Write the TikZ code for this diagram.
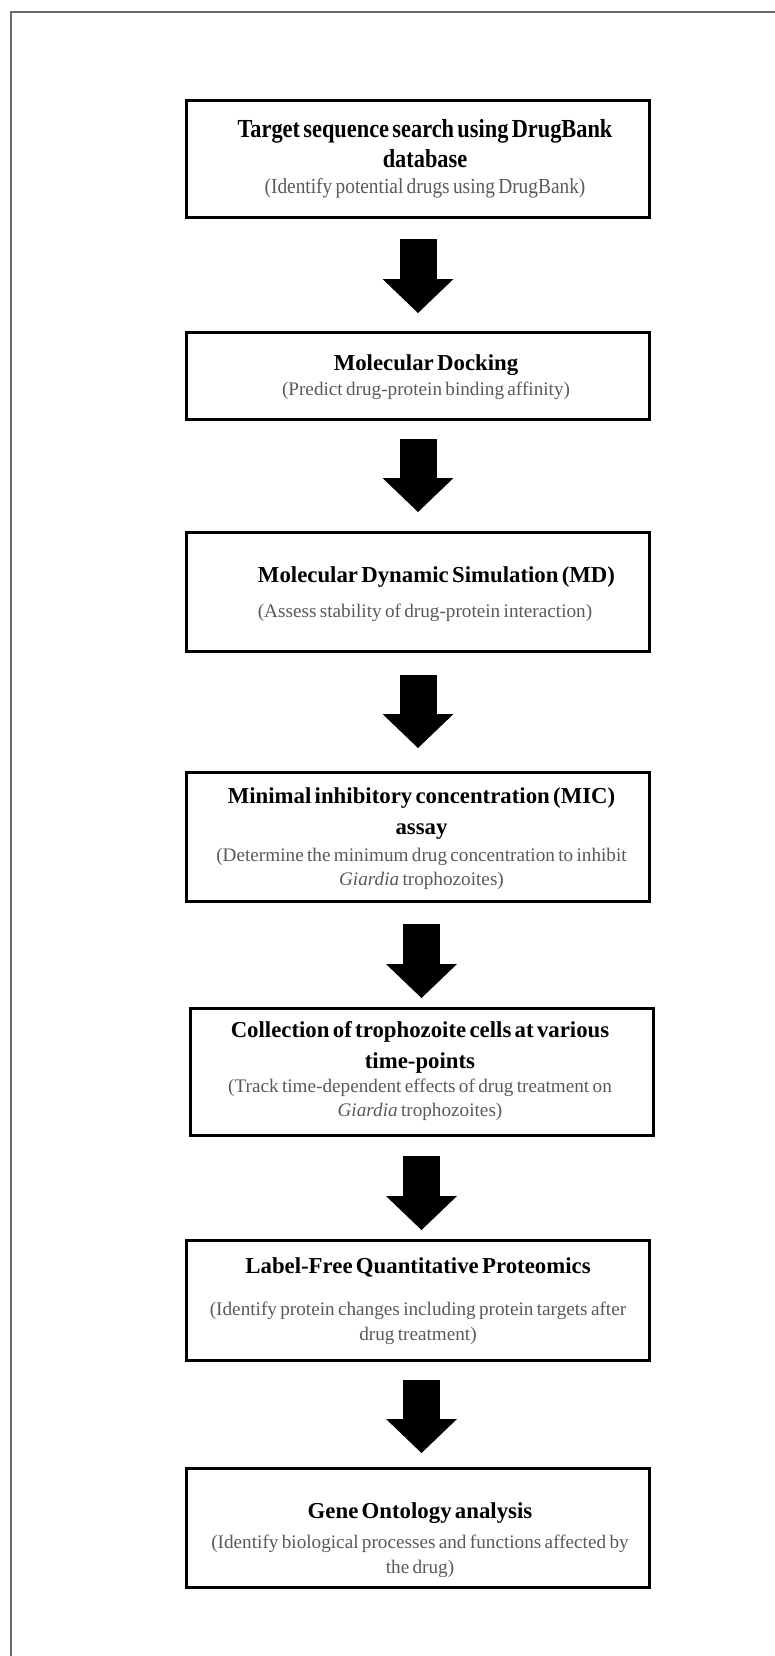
\documentclass[tikz,border=0pt]{standalone}
\usepackage{fontspec}
\setmainfont[WordSpace=1.3]{Liberation Serif}
\newfontfamily\tallttlfont[FakeStretch=0.86, WordSpace=1.3]{Liberation Serif}
\newfontfamily\tallsubfont[FakeStretch=0.9, WordSpace=1.3]{Liberation Serif}
\usetikzlibrary{arrows.meta}

\definecolor{subgray}{RGB}{89,89,89}
\definecolor{framegray}{RGB}{105,105,105}
\newcommand{\ttl}[1]{{\fontsize{22.8}{30.5}\selectfont\bfseries #1\par}}
\newcommand{\subt}[1]{{\fontsize{19.2}{24.5}\selectfont\leavevmode\color{subgray}#1\par}}

\begin{document}
\begin{tikzpicture}[x=1pt, y=-1pt,
    stepbox/.style={draw, line width=3pt, minimum width=463pt, inner sep=0pt, outer sep=0pt},
    steptext/.style={anchor=north, text width=470pt, align=center, inner sep=0pt},
    bigarrow/.style={line width=37pt, -{Triangle[width=71pt, length=34pt, line width=0pt]}}]
        \useasboundingbox (0,0) rectangle (775,1656);

        % 바깥 테두리
        \draw[framegray, line width=1.2pt] (775,12) -- (11,12) -- (11,1656);

        % 상자 (단계)
        \node[stepbox, minimum height=117pt] (b1) at (418,159) {};
        \node[stepbox, minimum height=87pt] (b2) at (418,376) {};
        \node[stepbox, minimum height=119pt] (b3) at (418,592) {};
        \node[stepbox, minimum height=129pt] (b4) at (418,837) {};
        \node[stepbox, minimum height=127pt] (b5) at (422,1072) {};
        \node[stepbox, minimum height=120pt] (b6) at (418,1300.5) {};
        \node[stepbox, minimum height=119pt] (b7) at (418,1528) {};

        % 상자 안 글
        \node[steptext] (t1) at (425,119.4) {{\tallttlfont\fontsize{26}{30}\selectfont\bfseries Target sequence search using DrugBank\\database\par}{\tallsubfont\fontsize{21.5}{26}\selectfont\leavevmode\color{subgray}(Identify potential drugs using DrugBank)\par}};
        \node[steptext] (t2) at (426,354.6) {\ttl{Molecular Docking}\vspace{0.5pt}\subt{(Predict drug-protein binding affinity)}};
        \node[steptext] (t3) at (425,566.6) {\ttl{\hspace*{23pt}Molecular Dynamic Simulation (MD)}\vspace{10.5pt}\subt{(Assess stability of drug-protein interaction)}};
        \node[steptext] (t4) at (421.5,787.6) {\ttl{Minimal inhibitory concentration (MIC)\\assay}\vspace{2.5pt}\subt{(Determine the minimum drug concentration to inhibit\\\textit{Giardia} trophozoites)}};
        \node[steptext] (t5) at (420,1021.6) {\ttl{Collection of trophozoite cells at various\\time-points}\vspace{-0.5pt}\subt{(Track time-dependent effects of drug treatment on\\\textit{Giardia} trophozoites)}};
        \node[steptext] (t6) at (418,1257.6) {\ttl{Label-Free Quantitative Proteomics}\vspace{17.5pt}\subt{(Identify protein changes including protein targets after\\drug treatment)}};
        \node[steptext] (t7) at (420,1502.6) {\ttl{Gene Ontology analysis}\vspace{5.5pt}\subt{(Identify biological processes and functions affected by\\the drug)}};

        % 화살표
        \draw[bigarrow] ([yshift=-21.5pt]b1.south) -- ([yshift=19.5pt]b2.north);
        \draw[bigarrow] ([yshift=-19.5pt]b2.south) -- ([yshift=20.5pt]b3.north);
        \draw[bigarrow] ([yshift=-23.5pt]b3.south) -- ([yshift=24.5pt]b4.north);
        \draw[bigarrow] ([xshift=3.5pt, yshift=-22.5pt]b4.south) -- ([xshift=-0.5pt, yshift=10.5pt]b5.north);
        \draw[bigarrow] ([xshift=-0.5pt, yshift=-20.5pt]b5.south) -- ([xshift=3.5pt, yshift=10.5pt]b6.north);
        \draw[bigarrow] ([xshift=3.5pt, yshift=-19.5pt]b6.south) -- ([xshift=3.5pt, yshift=15.5pt]b7.north);
\end{tikzpicture}
\end{document}
